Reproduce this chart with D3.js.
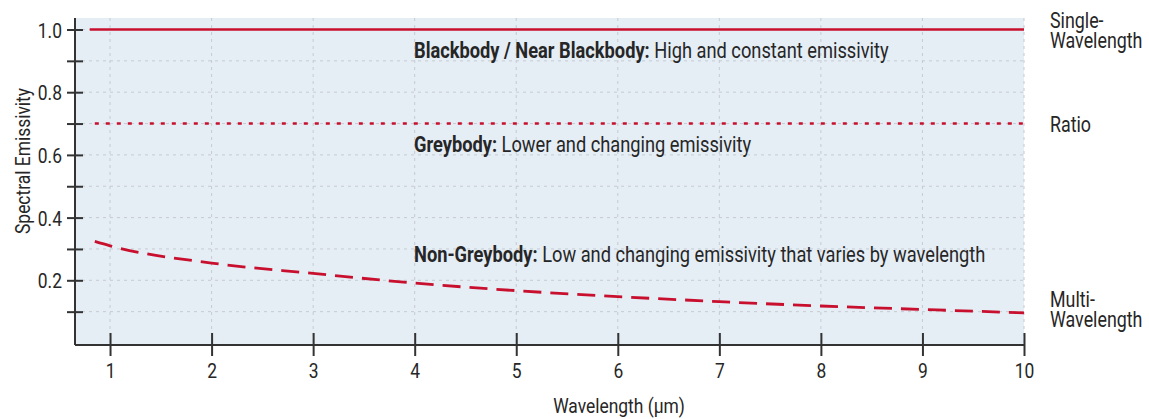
<!DOCTYPE html>
<html>
<head>
<meta charset="utf-8">
<script src="https://cdn.jsdelivr.net/npm/d3@7"></script>
<style>
  body { margin: 0; background: #fff; }
  svg text { font-family: Roboto, "Liberation Sans", sans-serif; fill: #262626; }
</style>
</head>
<body>
<div id="chart"></div>
<script>
// wavelength ticks (µm) and emissivity ticks
const xTicks = [1, 2, 3, 4, 5, 6, 7, 8, 9, 10];
const yTicks = [0.1, 0.2, 0.3, 0.4, 0.5, 0.6, 0.7, 0.8, 0.9, 1.0];

// blackbody and greybody: flat lines
const blackbodyX = [0.8, 10];
const blackbodyY = [1.0, 1.0];
const greybodyX = [0.85, 10];
const greybodyY = [0.7, 0.7];

// non-greybody
const nonGreyX = [0.85, 1, 2, 3, 4, 5, 6, 7, 8, 9, 10];
const nonGreyY = [0.324, 0.31, 0.255, 0.222, 0.191, 0.167, 0.148, 0.132, 0.118, 0.107, 0.096];

const notes = [
  { y: 0.9, bold: "Blackbody / Near Blackbody:", rest: " High and constant emissivity" },
  { y: 0.6, bold: "Greybody:", rest: " Lower and changing emissivity" },
  { y: 0.25, bold: "Non-Greybody:", rest: " Low and changing emissivity that varies by wavelength" }
];
const sideLabels = [
  { y: 1.0, lines: ["Single-", "Wavelength"] },
  { y: 0.7, lines: ["Ratio"] },
  { y: 0.11, lines: ["Multi-", "Wavelength"] }
];

const width = 1149, height = 419;
const red = "#c8102e";
const SX = 0.83; // fake a condensed face

const svg = d3.select("#chart").append("svg")
  .attr("width", width)
  .attr("height", height);

let x = d3.scaleLinear().domain([0.655, 10]).range([75, 1024]);
let y = d3.scaleLinear().domain([0, 1]).range([343, 29.5]);

const plotTop = 18, plotBottom = 345;

function squeeze(px, py, rot) {
  return "translate(" + px + "," + py + ")" + (rot ? " rotate(" + rot + ")" : "") + " scale(" + SX + ",1)";
}

// plot background
svg.append("rect")
  .attr("x", x.range()[0]).attr("y", plotTop)
  .attr("width", x.range()[1] - x.range()[0])
  .attr("height", plotBottom - plotTop)
  .attr("fill", "#e5edf5");

// grid
svg.append("g").selectAll("line").data(xTicks).join("line")
  .attr("x1", d => x(d)).attr("x2", d => x(d))
  .attr("y1", plotTop).attr("y2", plotBottom)
  .attr("stroke", "#c6cbd1").attr("stroke-width", 1).attr("stroke-dasharray", "3,4");
svg.append("g").selectAll("line").data(yTicks).join("line")
  .attr("x1", x.range()[0]).attr("x2", x.range()[1])
  .attr("y1", d => y(d)).attr("y2", d => y(d))
  .attr("stroke", "#c6cbd1").attr("stroke-width", 1).attr("stroke-dasharray", "3,4");

// series
let line = d3.line().x(d => x(d[0])).y(d => y(d[1]));
let smooth = d3.line().x(d => x(d[0])).y(d => y(d[1])).curve(d3.curveMonotoneX);

svg.append("path")
  .attr("d", line(d3.zip(blackbodyX, blackbodyY)))
  .attr("fill", "none").attr("stroke", red).attr("stroke-width", 2.6);
svg.append("path")
  .attr("d", line(d3.zip(greybodyX, greybodyY)))
  .attr("fill", "none").attr("stroke", red).attr("stroke-width", 2.6)
  .attr("stroke-dasharray", "4,7");
svg.append("path")
  .attr("d", smooth(d3.zip(nonGreyX, nonGreyY)))
  .attr("fill", "none").attr("stroke", red).attr("stroke-width", 2.8)
  .attr("stroke-dasharray", "18,9");

// axes
let yAxis = svg.append("g")
  .attr("transform", "translate(" + x.range()[0] + ",0)")
  .call(d3.axisLeft(y).tickValues(yTicks).tickSize(8)
    .tickFormat(d => (Math.round(d * 10) % 2 === 0) ? d3.format(".1f")(d) : ""));
yAxis.select(".domain").attr("d", "M0," + plotTop + "V" + plotBottom);
yAxis.selectAll(".tick line").attr("x1", 8);
yAxis.selectAll(".tick text").attr("x", 0).attr("dy", "0.36em")
  .attr("transform", squeeze(-13, 0));

let xAxis = svg.append("g")
  .attr("transform", "translate(0," + plotBottom + ")")
  .call(d3.axisBottom(x).tickValues(xTicks).tickSize(11));
xAxis.select(".domain").attr("d", "M" + x.range()[0] + ",0H" + x.range()[1]);
xAxis.selectAll(".tick line").attr("y1", -12);
xAxis.selectAll(".tick text").attr("y", 0).attr("dy", 0)
  .attr("transform", squeeze(0, 33));

svg.selectAll(".domain, .tick line").attr("stroke", "#333").attr("stroke-width", 2);
svg.selectAll(".tick text").style("font-size", "21px").attr("fill", "#333");

// axis titles
svg.append("text")
  .attr("transform", squeeze(30, 161, -90))
  .attr("text-anchor", "middle")
  .style("font-size", "21px")
  .text("Spectral Emissivity");
svg.append("text")
  .attr("transform", squeeze(619, 413))
  .attr("text-anchor", "middle")
  .style("font-size", "21px")
  .text("Wavelength (μm)");

// annotations
let noteText = svg.append("g").selectAll("text").data(notes).join("text")
  .attr("transform", d => squeeze(414, y(d.y) - 2.5))
  .style("font-size", "22px");
noteText.append("tspan").attr("font-weight", "bold").text(d => d.bold);
noteText.append("tspan").text(d => d.rest);

// right side labels, one text per line
let side = svg.append("g").selectAll("g").data(sideLabels).join("g");
side.selectAll("text").data(d => d.lines.map((l, i) => ({ text: l, i: i, n: d.lines.length, y: d.y })))
  .join("text")
  .attr("transform", d => squeeze(1050, y(d.y) - (d.n - 1) * 10.25 + 8.5 + d.i * 20.5))
  .style("font-size", "21.5px")
  .text(d => d.text);
</script>
</body>
</html>
